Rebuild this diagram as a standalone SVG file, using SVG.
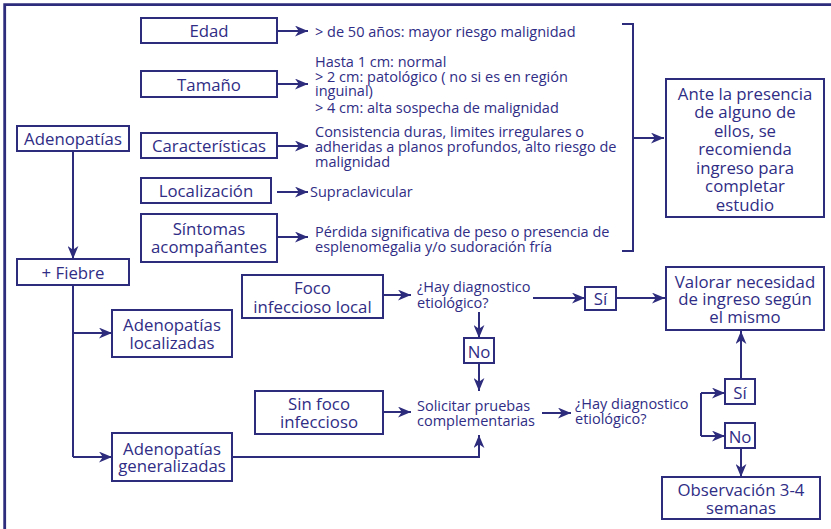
<svg xmlns="http://www.w3.org/2000/svg" width="831" height="529" viewBox="0 0 831 529">
<style>
.b{fill:#fff;stroke:#2d2b7c;stroke-width:2}
.t{font-family:"Open Sans","Liberation Sans",sans-serif;font-size:16.8px;fill:#2f2d85;text-anchor:middle}
.s{font-family:"Open Sans","Liberation Sans",sans-serif;font-size:14.5px;fill:#2f2d85}
.c{fill:none;stroke:#2d2b7c;stroke-width:2}
.a{marker-end:url(#ah)}
</style>
<defs>
<marker id="ah" viewBox="0 0 12 10" refX="12" refY="5" markerWidth="13" markerHeight="11" markerUnits="userSpaceOnUse" orient="auto">
<path d="M0,0 L12,5 L0,10 L3.5,5 z" fill="#2d2b7c"/>
</marker>
</defs>
<rect width="831" height="529" fill="#fff"/>
<path d="M4.7,529 V4.7 H831" fill="none" stroke="#2d2b7c" stroke-width="2.8"/>

<g id="connectors">
<path class="c a" d="M277,31 H308"/>
<path class="c a" d="M277,84 H308"/>
<path class="c a" d="M277,146 H308"/>
<path class="c a" d="M277,192 H308"/>
<path class="c a" d="M277,237 H308"/>
<path class="c" d="M622,24 H633 V251 H622"/>
<path class="c a" d="M633,138 H664"/>
<path class="c a" d="M73,151 V259"/>
<path class="c" d="M73,285 V457"/>
<path class="c a" d="M73,333 H112"/>
<path class="c a" d="M73,457 H112"/>
<path class="c a" d="M383,295 H411"/>
<path class="c a" d="M383,412 H411"/>
<path class="c a" d="M232,457 H479 V435"/>
<path class="c a" d="M533,298 H585"/>
<path class="c a" d="M616,298 H665"/>
<path class="c a" d="M479,312 V338"/>
<path class="c a" d="M479,363 V391"/>
<path class="c a" d="M542,413 H571"/>
<path class="c" d="M701,393 V436"/>
<path class="c a" d="M701,393 H725"/>
<path class="c a" d="M701,436 H725"/>
<path class="c a" d="M741,379 V331"/>
<path class="c a" d="M741,448 V477"/>
</g>

<g id="edad"><rect class="b" x="141" y="18" width="136" height="25"/><text class="t" x="209" y="37">Edad</text></g>
<g id="edad-txt"><text class="s" x="315" y="36.5">&gt; de 50 años: mayor riesgo malignidad</text></g>

<g id="tamano"><rect class="b" x="141" y="71" width="136" height="26"/><text class="t" x="209" y="90.5">Tamaño</text></g>
<g id="tamano-txt"><text class="s"><tspan x="315" y="66.5">Hasta 1 cm: normal</tspan><tspan x="315" y="81.5">&gt; 2 cm: patológico ( no si es en región</tspan><tspan x="315" y="95.5">inguinal)</tspan><tspan x="315" y="113">&gt; 4 cm: alta sospecha de malignidad</tspan></text></g>

<g id="caracteristicas"><rect class="b" x="141" y="133" width="136" height="25"/><text class="t" x="209" y="152">Características</text></g>
<g id="caracteristicas-txt"><text class="s"><tspan x="315" y="136.5">Consistencia duras, limites irregulares o</tspan><tspan x="315" y="151.5">adheridas a planos profundos, alto riesgo de</tspan><tspan x="315" y="166.5">malignidad</tspan></text></g>

<g id="localizacion"><rect class="b" x="141" y="178" width="130" height="25"/><text class="t" x="206" y="197">Localización</text></g>
<g id="localizacion-txt"><text class="s" x="310" y="196.5">Supraclavicular</text></g>

<g id="sintomas"><rect class="b" x="141" y="214" width="136" height="48"/><text class="t"><tspan x="209" y="234.5">Síntomas</tspan><tspan x="209" y="253">acompañantes</tspan></text></g>
<g id="sintomas-txt"><text class="s"><tspan x="315" y="237">Pérdida significativa de peso o presencia de</tspan><tspan x="315" y="252">esplenomegalia y/o sudoración fría</tspan></text></g>

<g id="ante"><rect class="b" x="666" y="79" width="158" height="138"/><text class="t"><tspan x="745" y="99.5">Ante la presencia</tspan><tspan x="745" y="118">de alguno de</tspan><tspan x="745" y="136.5">ellos, se</tspan><tspan x="745" y="155">recomienda</tspan><tspan x="745" y="173.5">ingreso para</tspan><tspan x="745" y="192">completar</tspan><tspan x="745" y="210.5">estudio</tspan></text></g>

<g id="adenopatias"><rect class="b" x="17" y="126" width="112" height="25"/><text class="t" x="73" y="145">Adenopatías</text></g>
<g id="fiebre"><rect class="b" x="17" y="259" width="112" height="26"/><text class="t" x="73" y="279">+ Fiebre</text></g>

<g id="aden-loc"><rect class="b" x="112" y="310" width="120" height="47"/><text class="t"><tspan x="172" y="331">Adenopatías</tspan><tspan x="172" y="349">localizadas</tspan></text></g>
<g id="aden-gen"><rect class="b" x="112" y="433" width="120" height="48"/><text class="t"><tspan x="172" y="454.5">Adenopatías</tspan><tspan x="172" y="472">generalizadas</tspan></text></g>

<g id="foco"><rect class="b" x="242" y="275" width="141" height="43"/><text class="t"><tspan x="312.5" y="294">Foco</tspan><tspan x="312.5" y="312.5">infeccioso local</tspan></text></g>
<g id="sinfoco"><rect class="b" x="255" y="391" width="128" height="43"/><text class="t"><tspan x="319" y="410">Sin foco</tspan><tspan x="319" y="428">infeccioso</tspan></text></g>

<g id="hay1"><text class="s"><tspan x="417" y="292">¿Hay diagnostico</tspan><tspan x="417" y="307.5">etiológico?</tspan></text></g>
<g id="si1"><rect class="b" x="585" y="287" width="31" height="23"/><text class="t" x="600.5" y="305">Sí</text></g>
<g id="no1"><rect class="b" x="464" y="338" width="30" height="25"/><text class="t" x="479" y="357.5">No</text></g>
<g id="solicitar"><text class="s"><tspan x="417" y="410.5">Solicitar pruebas</tspan><tspan x="417" y="425.5">complementarias</tspan></text></g>
<g id="hay2"><text class="s"><tspan x="575" y="409">¿Hay diagnostico</tspan><tspan x="575" y="424">etiológico?</tspan></text></g>
<g id="si2"><rect class="b" x="725" y="379" width="30" height="25"/><text class="t" x="740" y="398.5">Sí</text></g>
<g id="no2"><rect class="b" x="725" y="423" width="30" height="25"/><text class="t" x="740" y="442.5">No</text></g>

<g id="valorar"><rect class="b" x="666" y="267" width="158" height="63"/><text class="t"><tspan x="745" y="287.5">Valorar necesidad</tspan><tspan x="745" y="305">de ingreso según</tspan><tspan x="745" y="323">el mismo</tspan></text></g>
<g id="observacion"><rect class="b" x="662" y="477" width="158" height="42"/><text class="t"><tspan x="741" y="496">Observación 3-4</tspan><tspan x="741" y="514">semanas</tspan></text></g>
</svg>
